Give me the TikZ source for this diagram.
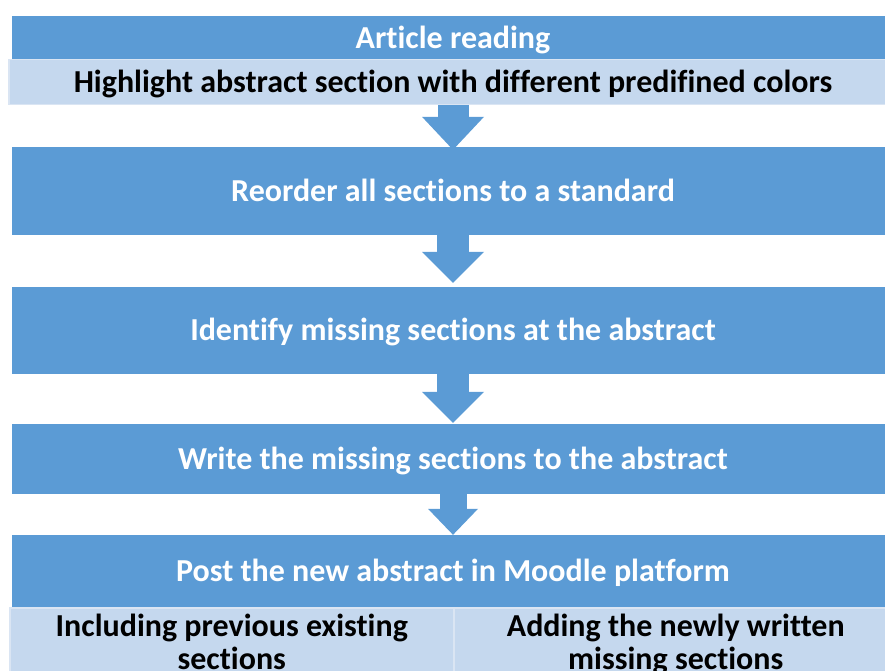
\documentclass[tikz,border=0pt]{standalone}
\usepackage{fontspec}
\setmainfont[Ligatures=NoCommon]{Carlito}
\usetikzlibrary{arrows.meta}
\definecolor{myblue}{RGB}{91,155,213}
\definecolor{mylight}{RGB}{197,216,238}
\definecolor{myedge}{RGB}{218,229,243}

\begin{document}
\begin{tikzpicture}[x=1pt, y=-1pt,
    stepbox/.style={fill=myblue, text=white, minimum width=882pt, inner sep=0pt,
        text height=24pt, text depth=4pt, font=\fontsize{32}{33}\selectfont\bfseries},
    notebox/.style={fill=mylight, draw=myedge, line width=1.5pt, text=black, inner sep=0pt,
        text height=24pt, text depth=4pt, align=center, font=\fontsize{32}{33}\selectfont\bfseries},
    flow/.style n args={3}{myblue, line width=#1,
        -{Triangle[width=#2, length=#3, line width=0pt]}}]
    \useasboundingbox (0, 0) rectangle (885, 670);
    % Reading step and its note
    \node[stepbox, minimum height=44pt] (read) at (453, 38) {Article reading};
    \node[notebox, minimum width=888pt, minimum height=45pt] (mark) at (453, 82)
        {Highlight abstract section with different predifined colors};
    % Main steps
    \node[stepbox, minimum height=88pt] (reorder) at (453, 191) {Reorder all sections to a standard};
    \node[stepbox, minimum height=87pt] (ident) at (453, 330.5) {Identify missing sections at the abstract};
    \node[stepbox, minimum height=70pt] (write) at (453, 459) {Write the missing sections to the abstract};
    \node[stepbox, minimum height=72pt] (post) at (453, 571) {Post the new abstract in Moodle platform};
    % The two parts of the posted abstract
    \node[notebox, text height=57pt, minimum width=444pt, minimum height=70pt, anchor=north west] (old)
        at (9, 607) {Including previous existing\\sections};
    \node[notebox, text height=57pt, minimum width=444pt, minimum height=70pt, anchor=north west] (new)
        at (453, 607) {Adding the newly written\\missing sections};
    % Block arrows
    \draw[flow={31pt}{62pt}{33pt}] (mark.south) -- ([yshift=-3pt]reorder.north);
    \draw[flow={32pt}{62pt}{31pt}, shorten >=4pt] (reorder.south) -- (ident.north);
    \draw[flow={32pt}{62pt}{31pt}, shorten >=1pt] (ident.south) -- (write.north);
    \draw[flow={27pt}{50pt}{26pt}] (write.south) -- (post.north);
\end{tikzpicture}
\end{document}
